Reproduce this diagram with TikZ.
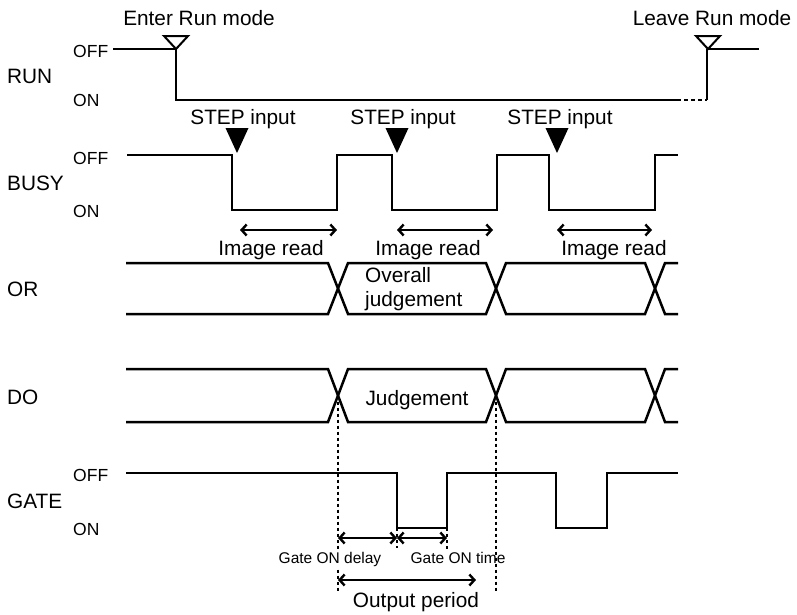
\documentclass[tikz,border=0pt]{standalone}
\usepackage{fontspec}
\setmainfont{Liberation Sans}
\usetikzlibrary{arrows.meta}
\begin{document}
\begin{tikzpicture}[x=1pt,y=-1pt,
  sig/.style={line width=2.5pt, line join=miter},
  stub/.style={line width=1.6pt},
  dots/.style={line width=2.5pt, dash pattern=on 3pt off 3pt},
  dimarrow/.style={line width=2.4pt, {Straight Barb[length=5pt,width=11pt]}-{Straight Barb[length=5pt,width=11pt]}},
  big/.style={font=\fontsize{20.8}{24}\selectfont, inner sep=0pt},
  lvl/.style={font=\fontsize{17.5}{20}\selectfont, inner sep=0pt, anchor=west},
  small/.style={font=\fontsize{15.5}{18}\selectfont, inner sep=0pt, anchor=base},
  opentri/.style={line width=2pt, line join=miter},
  steptri/.style={fill=black}]
\useasboundingbox (0,0) rectangle (797,614);

% ---------- RUN ----------
\draw[stub] (113,49) -- (176,49);
\draw[sig] (176,49) -- (176,100) -- (677,100);
\draw[line width=2.5pt, dash pattern=on 4pt off 3pt] (677,100) -- (707,100);
\draw[sig] (707,100) -- (707,49);
\draw[stub] (707,49) -- (759,49);
\draw[opentri] (164,36) -- (188,36) -- (176,49) -- cycle;
\draw[opentri] (696,36) -- (720,36) -- (708,49) -- cycle;

% ---------- STEP triangles ----------
\fill[steptri] (225.5,128) -- (248.5,128) -- (237,153) -- cycle;
\fill[steptri] (385.5,128) -- (408.5,128) -- (397,153) -- cycle;
\fill[steptri] (545.5,128) -- (568.5,128) -- (557,153) -- cycle;

% ---------- BUSY ----------
\draw[sig] (127,155) -- (232,155) -- (232,210) -- (337,210) -- (337,155)
  -- (392,155) -- (392,210) -- (497,210) -- (497,155) -- (549,155)
  -- (549,210) -- (655,210) -- (655,155) -- (678,155);
\coordinate (ir1a) at (240,230); \coordinate (ir1b) at (337,230);
\coordinate (ir2a) at (397,230); \coordinate (ir2b) at (493,230);
\coordinate (ir3a) at (557,230); \coordinate (ir3b) at (652,230);
\draw[dimarrow] (ir1a) -- (ir1b);
\draw[dimarrow] (ir2a) -- (ir2b);
\draw[dimarrow] (ir3a) -- (ir3b);

% ---------- OR ----------
\draw[sig] (126,263) -- (328,263) -- (348,314) -- (486,314) -- (506,263)
  -- (645,263) -- (665,314) -- (678,314);
\draw[sig] (126,314) -- (328,314) -- (348,263) -- (486,263) -- (506,314)
  -- (645,314) -- (665,263) -- (678,263);

% ---------- DO ----------
\draw[sig] (126,369) -- (328,369) -- (348,422) -- (486,422) -- (506,369)
  -- (645,369) -- (665,422) -- (678,422);
\draw[sig] (126,422) -- (328,422) -- (348,369) -- (486,369) -- (506,422)
  -- (645,422) -- (665,369) -- (678,369);

% ---------- GATE ----------
\draw[sig] (126,473) -- (397,473) -- (397,528) -- (447,528) -- (447,473)
  -- (556,473) -- (556,528) -- (607,528) -- (607,473) -- (678,473);

% ---------- timing guides ----------
\coordinate (x1top) at (338,395.5); \coordinate (x1bot) at (338,593);
\coordinate (x2top) at (496,395.5); \coordinate (x2bot) at (496,593);
\draw[dots] (x1top) -- (x1bot);
\draw[dots] (x2top) -- (x2bot);
\draw[dots] (397,528) -- (397,548);
\draw[dots] (447,528) -- (447,550);
\coordinate (gd1) at (338,538); \coordinate (gd2) at (397,538); \coordinate (gd3) at (447,538);
\draw[dimarrow] (gd1) -- (gd2);
\draw[dimarrow] (gd2) -- (gd3);
\coordinate (op1) at (338,580); \coordinate (op2) at (476,580);
\draw[dimarrow] (op1) -- (op2);

% ---------- labels ----------
\node[big, anchor=base] (enter) at (199,25) {Enter Run mode};
\node[big, anchor=base] (leave) at (712,25) {Leave Run mode};
\node[big, anchor=west] (run) at (7,76.5) {RUN};
\node[lvl] (runoff) at (73,51) {OFF};
\node[lvl] (runon) at (73,100) {ON};
\node[big, anchor=west] (busy) at (7,183) {BUSY};
\node[lvl] (busyoff) at (73,158) {OFF};
\node[lvl] (busyon) at (73,211) {ON};
\node[big, anchor=west] (or) at (7,289) {OR};
\node[big, anchor=west] (do) at (7,397) {DO};
\node[big, anchor=west] (gate) at (7,501) {GATE};
\node[lvl] (gateoff) at (73,475) {OFF};
\node[lvl] (gateon) at (73,529) {ON};

\node[big, anchor=base] (step1) at (243,124) {STEP input};
\node[big, anchor=base] (step2) at (403,124) {STEP input};
\node[big, anchor=base] (step3) at (560,124) {STEP input};
\node[big, anchor=base] (img1) at (271,255) {Image read};
\node[big, anchor=base] (img2) at (428,255) {Image read};
\node[big, anchor=base] (img3) at (614,255) {Image read};
\node[big, anchor=base west] (ovr1) at (365,282) {Overall};
\node[big, anchor=base west] (ovr2) at (365,306) {judgement};
\node[big, anchor=base] (judg) at (417,405) {Judgement};
\node[small, fill=white, inner ysep=2pt] (gdelay) at (330,563) {Gate ON delay};
\node[small] (gtime) at (458,563) {Gate ON time};
\node[big, anchor=base] (outp) at (416,607) {Output period};
\end{tikzpicture}
\end{document}
